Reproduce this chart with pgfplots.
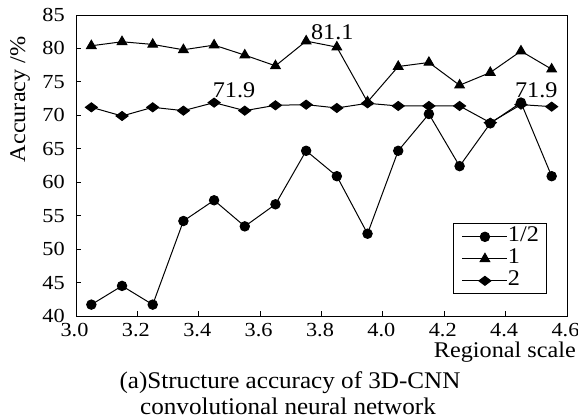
\documentclass[border=0pt]{standalone}
\usepackage{fontspec}
\setmainfont{Liberation Serif}
\newfontfamily\tickfam[FakeStretch=1.12]{Liberation Serif}
\newfontfamily\labfam[FakeStretch=1.08]{Liberation Serif}
\newfontfamily\capfam[FakeStretch=1.05]{Liberation Serif}
\newcommand\ftick{\tickfam\fontsize{20}{22}\selectfont}
\newcommand\flab{\labfam\fontsize{22.5}{24}\selectfont}
\newcommand\fcap{\capfam\fontsize{24}{27}\selectfont}
\usepackage{pgfplots}
\pgfplotsset{compat=1.18}
\pgfplotstableread{
x a b c
3.05 41.7 80.4 71.2
3.15 44.5 81.0 69.9
3.25 41.7 80.6 71.2
3.35 54.2 79.8 70.7
3.45 57.3 80.5 71.9
3.55 53.4 79.0 70.7
3.65 56.7 77.4 71.5
3.75 64.7 81.1 71.6
3.85 60.9 80.2 71.1
3.95 52.3 72.0 71.8
4.05 64.7 77.3 71.4
4.15 70.2 77.9 71.4
4.25 62.4 74.5 71.4
4.35 68.8 76.4 68.9
4.45 71.9 79.6 71.6
4.55 60.9 76.9 71.3
}\datatable
\begin{document}
\begin{tikzpicture}
\useasboundingbox (-76bp,-104bp) rectangle (502bp,316bp);
\begin{axis}[
  name=ax,
  at={(0bp,0bp)}, anchor=south west,
  width=491bp, height=301bp, scale only axis,
  xmin=3.0, xmax=4.6, ymin=40, ymax=85,
  xtick={3.0,3.2,3.4,3.6,3.8,4.0,4.2,4.4,4.6},
  ytick={40,45,50,55,60,65,70,75,80,85},
  /pgf/number format/assume math mode=true,
  xticklabel style={/pgf/number format/fixed, /pgf/number format/fixed zerofill, /pgf/number format/precision=1},
  tick align=inside, tick pos=left, major tick length=5bp,
  axis line style={line width=1bp}, tick style={line width=1bp, black},
  xticklabel style={font=\ftick, inner sep=0pt, anchor=north, yshift=-7bp, xshift=-1.5bp},
  yticklabel style={font=\ftick, inner sep=0pt, anchor=east, xshift=-11bp},
  xlabel={Regional scale},
  every axis x label/.style={at={(rel axis cs:1,0)}, anchor=base east, inner sep=0pt, yshift=-41bp, xshift=9bp, font=\flab},
  ylabel={Accuracy /\%},
  every axis y label/.style={at={(rel axis cs:-0.114,0.72)}, rotate=90, anchor=center, inner sep=0pt, font=\flab},
  legend cell align=left,
  reverse legend,
  legend style={at={(rel axis cs:0.96,0.072)}, anchor=south east, draw=black, line width=1bp,
    inner xsep=8bp, inner ysep=2bp, row sep=0bp, column sep=0bp, font=\flab,
    nodes={inner sep=0bp, text height=15.5bp, text depth=6.5bp}},
  legend image code/.code={\draw[mark repeat=2,mark phase=2] plot coordinates {(0bp,0bp) (22.5bp,0bp) (45bp,0bp)};},
  legend style={/tikz/every odd column/.style={}, /tikz/every even column/.style={column sep=12bp}},
]
\addplot[black, line width=1bp, mark=diamond*, mark size=6bp, mark options={rotate=90}] table[x=x,y=c] {\datatable};
\addlegendentry{2}
\addplot[black, line width=1bp, mark=triangle*, mark size=5.5bp] table[x=x,y=b] {\datatable};
\addlegendentry{1}
\addplot[black, line width=1bp, mark=*, mark size=4.7bp] table[x=x,y=a] {\datatable};
\addlegendentry{1/2}
\node[font=\flab] at (axis cs:3.835,82.5) {81.1};
\node[font=\flab] at (axis cs:3.515,73.8) {71.9};
\node[font=\flab] at (axis cs:4.50,73.8) {71.9};
\end{axis}
\node[anchor=base, inner sep=0pt, font=\fcap] at ([shift={(214bp,-72bp)}]ax.south west) {(a)Structure accuracy of 3D-CNN};
\node[anchor=base, inner sep=0pt, font=\fcap] at ([shift={(212bp,-98bp)}]ax.south west) {convolutional neural network};
\end{tikzpicture}
\end{document}
